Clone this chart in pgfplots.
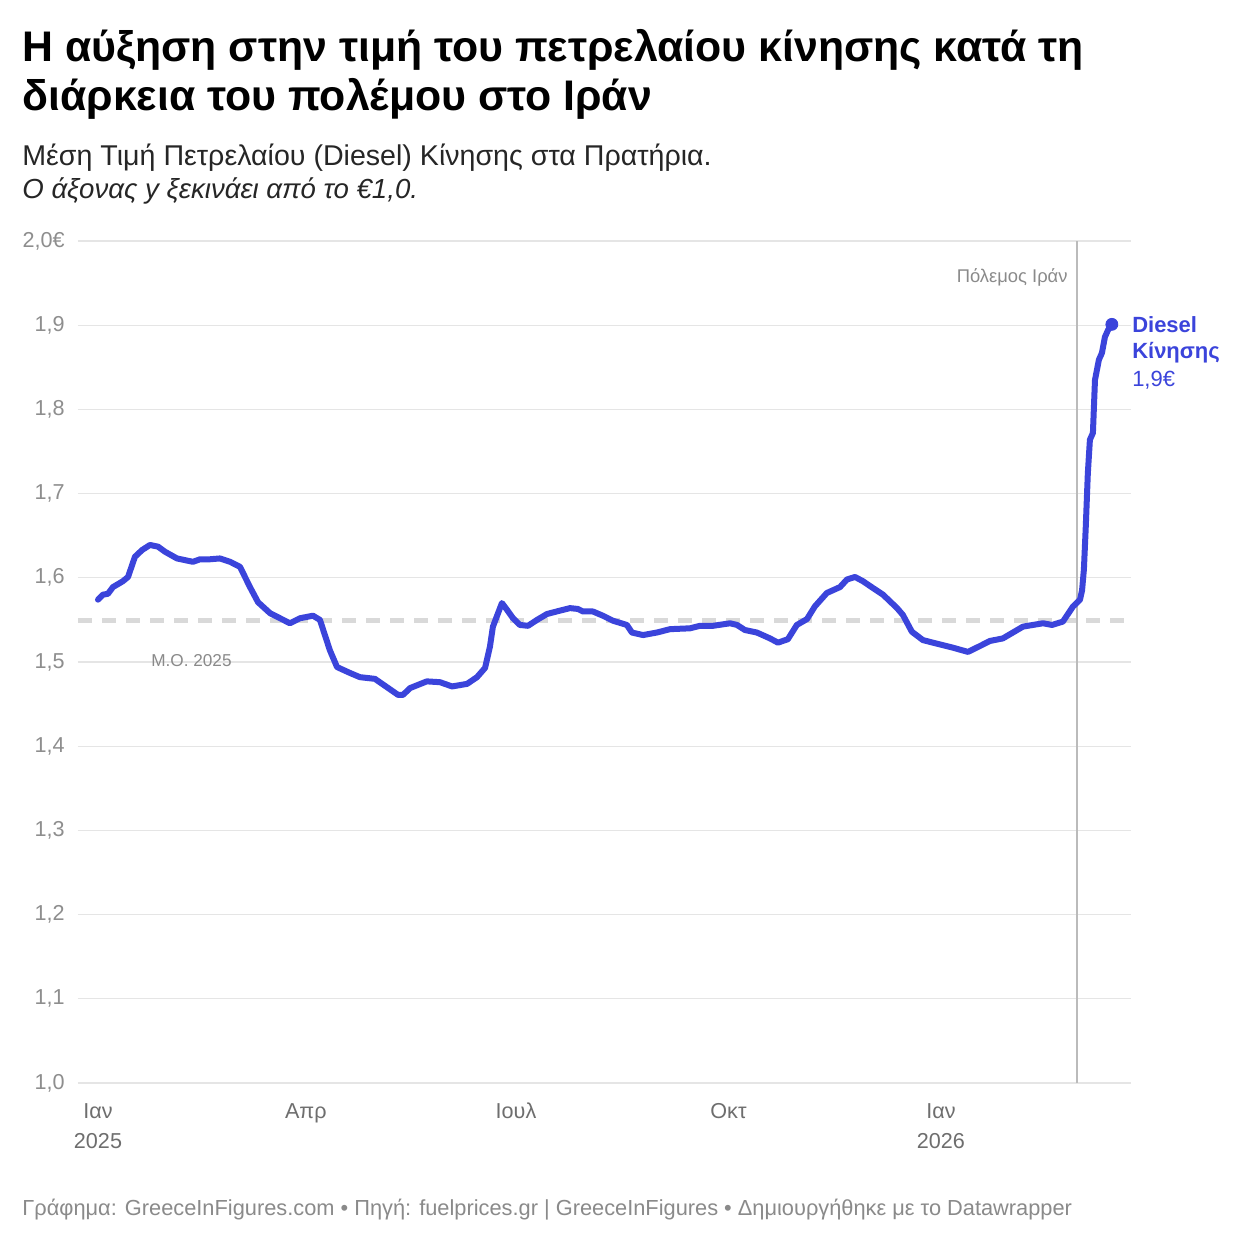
\documentclass[border=0pt]{standalone}
\usepackage{pgfplots}
\pgfplotsset{compat=1.18}
\usepackage{fontspec}
\setmainfont{Liberation Sans}
\definecolor{lineblue}{HTML}{3B44DB}
\definecolor{gridc}{HTML}{E5E5E5}
\definecolor{meanc}{HTML}{D9D9D9}
\definecolor{warc}{HTML}{BBBBBB}
\definecolor{ytc}{HTML}{8E8E8E}
\definecolor{xtc}{HTML}{6E6E6E}
\definecolor{footc}{HTML}{8A8A8A}
\begin{document}
\begin{tikzpicture}[x=1pt,y=1pt]
\path[use as bounding box, fill=white] (0,0) rectangle (620,-620);
\node[anchor=base west, inner sep=0, font=\fontsize{21.4}{25}\selectfont\bfseries] at (11,-31) {Η αύξηση στην τιμή του πετρελαίου κίνησης κατά τη};
\node[anchor=base west, inner sep=0, font=\fontsize{21.4}{25}\selectfont\bfseries] at (11,-55.5) {διάρκεια του πολέμου στο Ιράν};
\node[anchor=base west, inner sep=0, font=\fontsize{14.3}{17}\selectfont, text=black!85] at (11,-83) {Μέση Τιμή Πετρελαίου (Diesel) Κίνησης στα Πρατήρια.};
\node[anchor=base west, inner sep=0, font=\fontsize{13.8}{17}\selectfont\itshape, text=black!85] at (11,-99.5) {Ο άξονας y ξεκινάει από το €1,0.};
\node[anchor=base west, inner sep=0, font=\fontsize{10.9}{13}\selectfont, text=footc] at (11,-607.5) {Γράφημα: GreeceInFigures.com • Πηγή: fuelprices.gr | GreeceInFigures • Δημιουργήθηκε με το Datawrapper};
\begin{axis}[
  at={(39pt,-541.5pt)}, anchor=south west,
  scale only axis, width=526.5pt, height=421pt,
  xmin=-8.66, xmax=447.3, ymin=1.0, ymax=2.0,
  clip=false,
  axis line style={draw=none},
  tick style={draw=none},
  ymajorgrids, grid style={gridc, line width=0.6pt},
  ytick={1,1.1,1.2,1.3,1.4,1.5,1.6,1.7,1.8,1.9,2.0},
  yticklabels={{1,0},{1,1},{1,2},{1,3},{1,4},{1,5},{1,6},{1,7},{1,8},{1,9},{2,0€}},
  yticklabel style={anchor=east, inner sep=0pt, xshift=-6.5pt, text=ytc, font=\fontsize{10.8}{12}\selectfont},
  xtick={0,90,181,273,365},
  xticklabels={{\strut Ιαν\\\strut 2025},{\strut Απρ},{\strut Ιουλ},{\strut Οκτ},{\strut Ιαν\\\strut 2026}},
  xticklabel style={anchor=north, align=center, inner sep=0pt, yshift=-7pt, text=xtc, font=\fontsize{10.8}{15}\selectfont},
  /pgf/number format/assume math mode=true,
]
\addplot[meanc, line width=2.5pt, dash pattern=on 7pt off 5pt] coordinates {(-8.66,1.5487) (447.3,1.5487)};
\addplot[warc, line width=0.75pt] coordinates {(423.9,1.0) (423.9,2.0)};
\addplot[lineblue, line width=3pt, line join=round, line cap=round] coordinates {
(0,1.574) (2.2,1.580) (4.3,1.581) (6.5,1.589) (10.8,1.596) (13.0,1.601) (16.0,1.625) (19.1,1.633)
(22.5,1.639) (26.0,1.637) (29.0,1.631) (34.2,1.623) (41.1,1.619) (44.2,1.622) (48.5,1.622) (52.8,1.623)
(57.2,1.619) (61.5,1.613) (65.8,1.589) (69.3,1.571) (74.5,1.558) (83.1,1.546) (87.5,1.552) (93.1,1.555)
(96.1,1.550) (100.4,1.514) (103.5,1.494) (109.1,1.487) (113.4,1.482) (119.9,1.480) (129.9,1.461) (132.1,1.461)
(135.1,1.469) (142.4,1.477) (148.1,1.476) (153.3,1.471) (159.8,1.474) (164.1,1.482) (167.6,1.493) (169.7,1.518)
(171.0,1.542) (174.9,1.570) (177.1,1.562) (179.7,1.552) (182.7,1.544) (186.2,1.543) (190.1,1.550) (194.4,1.557)
(200.0,1.561) (204.4,1.564) (207.8,1.563) (210.0,1.560) (214.3,1.560) (218.6,1.555) (223.0,1.549) (229.0,1.544)
(231.2,1.535) (236.0,1.532) (242.0,1.535) (247.7,1.539) (256.3,1.540) (260.7,1.543) (266.3,1.543) (273.7,1.546)
(276.7,1.544) (280.1,1.538) (285.3,1.535) (291.0,1.528) (294.4,1.523) (298.7,1.527) (302.6,1.544) (307.0,1.551)
(310.4,1.566) (315.6,1.582) (321.3,1.589) (324.3,1.598) (327.8,1.601) (331.2,1.596) (335.5,1.588) (339.9,1.580)
(346.0,1.564) (348.5,1.556) (352.4,1.536) (357.2,1.526) (361.5,1.523) (370.2,1.517) (376.7,1.512) (381.9,1.519)
(386.2,1.525) (391.8,1.528) (400.5,1.542) (404.8,1.544) (409.2,1.546) (413.1,1.544) (417.8,1.548) (422.2,1.566)
(425.2,1.574) (426.1,1.585) (426.9,1.610) (427.7,1.660) (428.6,1.724) (429.5,1.764) (430.8,1.772) (431.7,1.835)
(433.4,1.859) (434.7,1.867) (436.0,1.886) (437.3,1.894) (439.0,1.901)
};
\addplot[only marks, mark=*, mark size=3pt, lineblue] coordinates {(439.0,1.901)};
\node[anchor=west, inner sep=0, font=\fontsize{11}{13}\selectfont\bfseries, text=lineblue, xshift=10pt] at (axis cs:439,1.901) {Diesel};
\node[anchor=west, inner sep=0, font=\fontsize{11}{13}\selectfont\bfseries, text=lineblue, xshift=10pt] at (axis cs:439,1.8677) {Κίνησης};
\node[anchor=west, inner sep=0, font=\fontsize{11}{13}\selectfont, text=lineblue, xshift=10pt] at (axis cs:439,1.8344) {1,9€};
\node[anchor=east, inner sep=0, font=\fontsize{9.2}{11}\selectfont, text=footc, xshift=-4.5pt] at (axis cs:423.9,1.957) {Πόλεμος Ιράν};
\node[anchor=west, inner sep=0, font=\fontsize{8.6}{10}\selectfont, text=footc] at (axis cs:22.9,1.502) {M.O. 2025};
\end{axis}
\end{tikzpicture}
\end{document}
